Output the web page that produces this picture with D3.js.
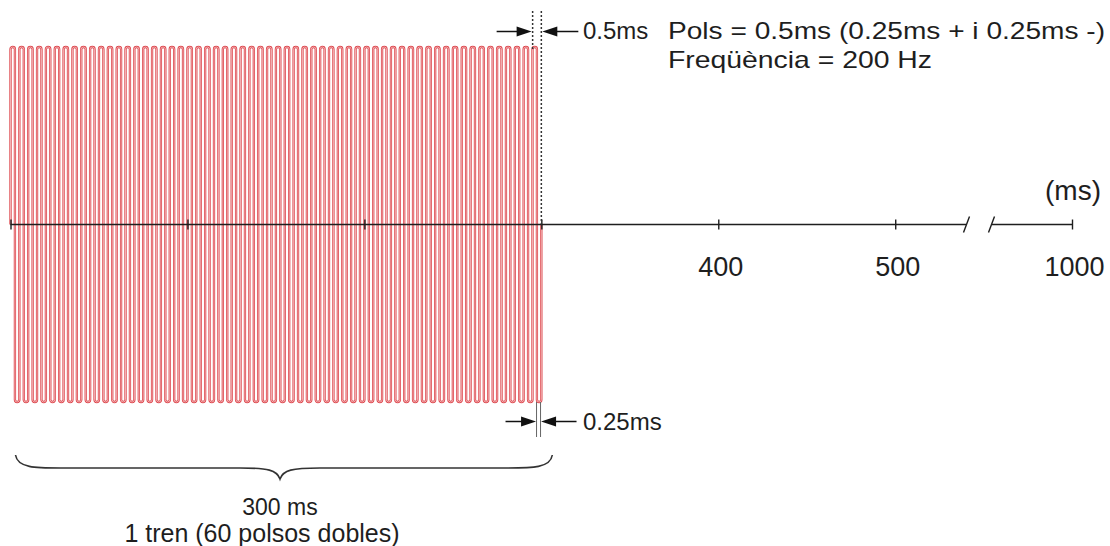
<!DOCTYPE html>
<html>
<head>
<meta charset="utf-8">
<script src="https://cdn.jsdelivr.net/npm/d3@7"></script>
<style>
  html, body { margin: 0; padding: 0; background: #fff; }
  svg { display: block; font-family: "Liberation Sans", Arial, sans-serif; }
</style>
</head>
<body>
<svg id="chart" width="1110" height="546"></svg>
<script>
// Stimulation train parameters
const trainStartMs = 0;
const trainDurationMs = 300;
const frequencyHz = 200;
const doublePulses = 60;          // 1 tren = 60 polsos dobles
const pulseAmplitudes = [1, -1];  // positive phase, negative phase

// Axis
const axisTicks = [0, 100, 200, 300, 400, 500, 1000];
const axisTickLabels = ["", "", "", "", "400", "500", "1000"];
const axisBreak = [540, 960];     // the axis is cut between these times

// Texts
const unitLabel = "(ms)";
const pulseWidthLabel = "0.5ms";
const phaseWidthLabel = "0.25ms";
const infoLines = ["Pols = 0.5ms (0.25ms + i 0.25ms -)", "Freqüència = 200 Hz"];
const braceLines = ["300 ms", "1 tren (60 polsos dobles)"];

const svg = d3.select("#chart");
const ink = "#1e1e1e";

// Broken time axis: two linear pieces joined across the cut
const x = d3.scaleLinear()
  .domain([0, axisBreak[0], axisBreak[1], 1000])
  .range([10.5, 966, 992, 1072]);
const y = d3.scaleLinear().domain([-1, 1]).range([402, 47]);
const y0 = y(0);

const periodMs = 1000 / frequencyHz;
const phaseMs = periodMs / pulseAmplitudes.length;

// Serpentine waveform: up leg, rounded top, down leg, rounded bottom
const legTimes = d3.range(doublePulses * pulseAmplitudes.length + 1)
  .map(k => trainStartMs + k * phaseMs);
let d = `M${x(legTimes[0])},${y0}`;
legTimes.forEach((t, k) => {
  if (k === legTimes.length - 1) { d += `L${x(t)},${y0}`; return; }
  const amp = pulseAmplitudes[k % pulseAmplitudes.length];
  const xa = x(t), xb = x(legTimes[k + 1]);
  const r = (xb - xa) / 2;
  const yEdge = y(amp) + (amp > 0 ? r : -r);
  d += `L${xa},${yEdge}`;
  d += `A${r},${r} 0 0 ${amp > 0 ? 1 : 0} ${xb},${yEdge}`;
});

const wave = svg.append("g").attr("class", "wave");
wave.append("path").attr("d", d)
  .attr("fill", "none").attr("stroke", "#dc4047").attr("stroke-width", 2.3);
wave.append("path").attr("d", d)
  .attr("fill", "none").attr("stroke", "#fbe0e0").attr("stroke-width", 0.7);

// Axis line (with a cut) and ticks
const axisG = svg.append("g").attr("class", "axis");
axisG.append("line")
  .attr("x1", x(0)).attr("x2", x(axisBreak[0]))
  .attr("y1", y0).attr("y2", y0)
  .attr("stroke", ink).attr("stroke-width", 1.4);
axisG.append("line")
  .attr("x1", x(axisBreak[1])).attr("x2", x(1000))
  .attr("y1", y0).attr("y2", y0)
  .attr("stroke", ink).attr("stroke-width", 1.4);
[axisBreak[0], axisBreak[1]].forEach((t, i) => {
  const cx = x(t) + (i === 0 ? 0.5 : -0.5);
  axisG.append("line")
    .attr("x1", cx - 3).attr("x2", cx + 3)
    .attr("y1", y0 + 8).attr("y2", y0 - 8)
    .attr("stroke", ink).attr("stroke-width", 1.4);
});

const axis = d3.axisBottom(x)
  .tickValues(axisTicks)
  .tickSize(5)
  .tickPadding(27)
  .tickFormat((v, i) => axisTickLabels[i]);
const ag = svg.append("g").attr("transform", `translate(0,${y0})`).call(axis);
ag.select(".domain").remove();
ag.selectAll(".tick line").attr("y1", -5).attr("y2", 5)
  .attr("stroke", ink).attr("stroke-width", 1.4);
ag.selectAll(".tick text")
  .attr("font-size", 27).attr("fill", ink).attr("dx", 2)
  .attr("font-family", "Liberation Sans, Arial, sans-serif");

svg.append("text").attr("x", x(1000) + 1).attr("y", 200)
  .attr("text-anchor", "middle").attr("font-size", 28).attr("fill", ink)
  .text(unitLabel);

// Arrow helper
function arrowHead(g, tipX, tipY, dir) {
  const L = 15, H = 5;
  g.append("path")
    .attr("d", `M${tipX},${tipY}L${tipX - dir * L},${tipY - H}L${tipX - dir * L},${tipY + H}Z`)
    .attr("fill", "#111");
}

// Pulse width marker (top)
const xEnd = x(trainStartMs + trainDurationMs);
const topMarker = svg.append("g");
const xl = xEnd - 8.7, xr = xEnd;
topMarker.append("line").attr("x1", xl).attr("x2", xl).attr("y1", 11).attr("y2", y(1) + 2)
  .attr("stroke", "#333").attr("stroke-width", 1.5).attr("stroke-dasharray", "2,2");
topMarker.append("line").attr("x1", xr).attr("x2", xr).attr("y1", 11).attr("y2", y0)
  .attr("stroke", "#333").attr("stroke-width", 1.5).attr("stroke-dasharray", "2,2");
topMarker.append("line").attr("x1", xl - 36).attr("x2", xl - 10).attr("y1", 31.5).attr("y2", 31.5)
  .attr("stroke", "#111").attr("stroke-width", 1.5);
arrowHead(topMarker, xl - 1, 31.5, 1);
topMarker.append("line").attr("x1", xr + 10).attr("x2", xr + 37).attr("y1", 31.5).attr("y2", 31.5)
  .attr("stroke", "#111").attr("stroke-width", 1.5);
arrowHead(topMarker, xr + 1, 31.5, -1);
topMarker.append("text").attr("x", 583).attr("y", 39)
  .attr("font-size", 24).attr("fill", ink).text(pulseWidthLabel);

// Phase width marker (bottom)
const botMarker = svg.append("g");
const bl = xEnd - 4.8, br = xEnd - 0.8;
[bl, br].forEach(v => botMarker.append("line")
  .attr("x1", v).attr("x2", v).attr("y1", y(-1)).attr("y2", 437)
  .attr("stroke", "#666").attr("stroke-width", 1));
botMarker.append("line").attr("x1", bl - 31).attr("x2", bl - 10).attr("y1", 421.5).attr("y2", 421.5)
  .attr("stroke", "#111").attr("stroke-width", 1.5);
arrowHead(botMarker, bl - 0.5, 421.5, 1);
botMarker.append("line").attr("x1", br + 10).attr("x2", br + 36).attr("y1", 421.5).attr("y2", 421.5)
  .attr("stroke", "#111").attr("stroke-width", 1.5);
arrowHead(botMarker, br + 0.5, 421.5, -1);
botMarker.append("text").attr("x", 583).attr("y", 430)
  .attr("font-size", 24).attr("fill", ink).text(phaseWidthLabel);

// Info text
const infoWidths = [437, 264];
svg.append("g").selectAll("text").data(infoLines).join("text")
  .attr("x", 668).attr("y", (v, i) => 39 + i * 29)
  .attr("font-size", 24).attr("fill", ink)
  .attr("textLength", (v, i) => infoWidths[i])
  .attr("lengthAdjust", "spacingAndGlyphs")
  .text(v => v);

// Brace under the train
const bx0 = x(trainStartMs) + 5, bx1 = xEnd + 11, bmid = 280;
const byTop = 455, byLine = 468, byTip = 479;
const brace = `M${bx0},${byTop}C${bx0 + 2},${byLine} ${bx0 + 20},${byLine} ${bx0 + 45},${byLine}`
  + `L${bmid - 40},${byLine}C${bmid - 12},${byLine} ${bmid - 3},${byLine + 2} ${bmid},${byTip}`
  + `C${bmid + 3},${byLine + 2} ${bmid + 12},${byLine} ${bmid + 40},${byLine}`
  + `L${bx1 - 45},${byLine}C${bx1 - 20},${byLine} ${bx1 - 2},${byLine} ${bx1},${byTop}`;
svg.append("path").attr("d", brace).attr("fill", "none")
  .attr("stroke", "#333").attr("stroke-width", 1.6);

svg.append("g").selectAll("text").data(braceLines).join("text")
  .attr("x", (v, i) => i === 0 ? 280 : 262).attr("y", (v, i) => 515 + i * 27)
  .attr("text-anchor", "middle").attr("font-size", (v, i) => i === 0 ? 23 : 25)
  .attr("fill", ink).text(v => v);
</script>
</body>
</html>
